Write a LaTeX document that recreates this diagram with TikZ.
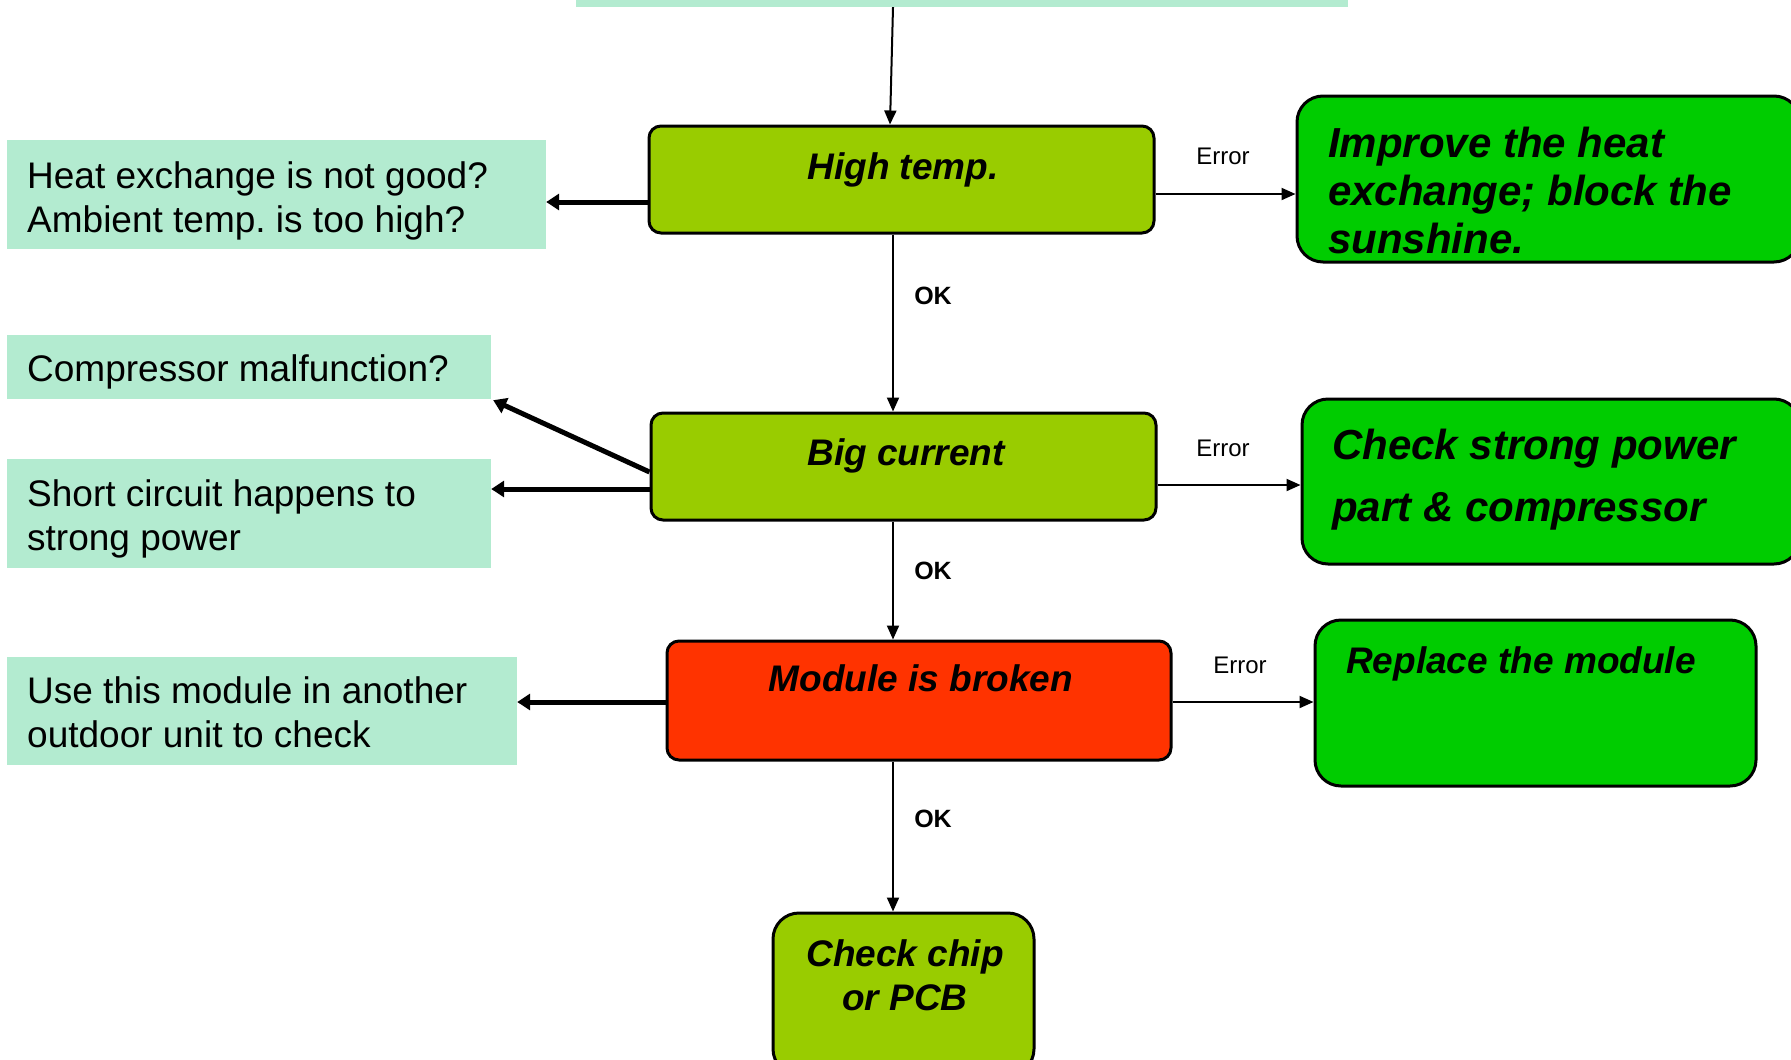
\documentclass[tikz,border=0pt]{standalone}
\usepackage{fontspec}
\setmainfont{Liberation Sans}
\usetikzlibrary{arrows.meta}
\definecolor{mint}{HTML}{B3EBD0}
\definecolor{ygreen}{HTML}{99CC00}
\definecolor{bgreen}{HTML}{00CC00}
\definecolor{bred}{HTML}{FF3300}
\frenchspacing
\begin{document}
\begin{tikzpicture}[x=1pt,y=-1pt,
  box/.style={draw, line width=3pt, inner sep=0pt},
  stepbox/.style={box, rounded corners=12pt, fill=ygreen},
  actbox/.style={box, rounded corners=26pt, fill=bgreen},
  causebox/.style={fill=mint, inner sep=0pt},
  ctext/.style={font=\fontsize{37}{44}\selectfont, inner sep=0pt, align=left, anchor=base west},
  btext/.style={font=\fontsize{37}{44}\selectfont\bfseries\itshape, inner sep=0pt, align=center, anchor=base},
  atext/.style={font=\fontsize{42}{48}\selectfont\bfseries\itshape, inner sep=0pt, align=left, anchor=base west},
  lbl/.style={font=\fontsize{24}{28}\selectfont, inner sep=0pt, anchor=base},
  oklbl/.style={font=\fontsize{25}{28}\selectfont\bfseries, inner sep=0pt, anchor=base},
  thin/.style={line width=2pt, -{Triangle[length=14pt,width=12pt]}},
  thick/.style={line width=5pt, -{Triangle[length=13pt,width=16pt]}}
]
\useasboundingbox (0,0) rectangle (1791,1060);

% top bar
\node[causebox, minimum width=772pt, minimum height=27pt] (top) at (962,-6.5) {};

% main step boxes
\node[stepbox, minimum width=505pt, minimum height=107pt] (high) at (901.5,179.5) {};
\node[btext] (thigh) at (903,179) {High temp.};
\node[stepbox, minimum width=505pt, minimum height=107pt] (big) at (903.5,466.5) {};
\node[btext] (tbig) at (906,465) {Big current};
\node[box, rounded corners=12pt, fill=bred, minimum width=504pt, minimum height=119pt] (mod) at (919,700.5) {};
\node[btext] (tmod) at (921,691) {Module is broken};
\node[box, rounded corners=26pt, fill=ygreen, minimum width=261pt, minimum height=162pt] (chip) at (903.5,994) {};
\node[btext] (tchip) at (905,1010) {Check chip\\or PCB};

% action boxes
\node[actbox, minimum width=503pt, minimum height=166pt] (imp) at (1548.5,179) {};
\node[atext] (timp) at (1328,253) {Improve the heat\\exchange; block the\\sunshine.};
\node[actbox, minimum width=498pt, minimum height=165pt] (chk) at (1551,481.5) {};
\node[atext, font=\fontsize{42}{62}\selectfont\bfseries\itshape] (tchk) at (1332,521) {Check strong power\\part \& compressor};
\node[actbox, minimum width=441pt, minimum height=166pt] (rep) at (1535.5,703) {};
\node[atext, font=\fontsize{37}{44}\selectfont\bfseries\itshape] (trep) at (1346,673) {Replace the module};

% cause boxes
\node[causebox, minimum width=539pt, minimum height=109pt] (l1) at (276.5,194.5) {};
\node[ctext] (tl1) at (27,232) {Heat exchange is not good?\\Ambient temp. is too high?};
\node[causebox, minimum width=484pt, minimum height=64pt] (l2) at (249,367) {};
\node[ctext] (tl2) at (27,381) {Compressor malfunction?};
\node[causebox, minimum width=484pt, minimum height=109pt] (l3) at (249,513.5) {};
\node[ctext] (tl3) at (27,550) {Short circuit happens to\\strong power};
\node[causebox, minimum width=510pt, minimum height=108pt] (l4) at (262,711) {};
\node[ctext] (tl4) at (27,747) {Use this module in another\\outdoor unit to check};

% connectors
\draw[thin] ([xshift=-69pt]top.south) -- ([xshift=-11.5pt]high.north);
\draw[thin] ([yshift=-14.5pt]high.east) -- ([yshift=-14.5pt]high.east -| imp.west);
\draw[thick] ([yshift=-22.5pt]high.west) -- ([yshift=-22.5pt]high.west -| l1.east);
\draw[thin] ([xshift=-8.5pt]high.south) -- ([xshift=-8.5pt]high.south |- big.north);
\draw[thick] ([yshift=-5.5pt]big.west) -- ([xshift=2pt,yshift=-1pt]l2.south east);
\draw[thick] ([yshift=-22.5pt]big.west) -- ([yshift=-22.5pt]big.west -| l3.east);
\draw[thin] ([yshift=-18.5pt]big.east) -- ([yshift=-18.5pt]big.east -| chk.west);
\draw[thin] ([xshift=-10.5pt]big.south) -- ([xshift=-10.5pt]big.south |- mod.north);
\draw[thick] ([yshift=-1.5pt]mod.west) -- ([yshift=-1.5pt]mod.west -| l4.east);
\draw[thin] ([yshift=-1.5pt]mod.east) -- ([yshift=-1.5pt]mod.east -| rep.west);
\draw[thin] ([xshift=-26pt]mod.south) -- ([xshift=-26pt]mod.south |- chip.north);

% labels
\node[lbl] (e1) at (1223,164) {Error};
\node[lbl] (e2) at (1223,456) {Error};
\node[lbl] (e3) at (1240,673) {Error};
\node[oklbl] (ok1) at (933,304) {OK};
\node[oklbl] (ok2) at (933,579) {OK};
\node[oklbl] (ok3) at (933,827) {OK};
\end{tikzpicture}
\end{document}
